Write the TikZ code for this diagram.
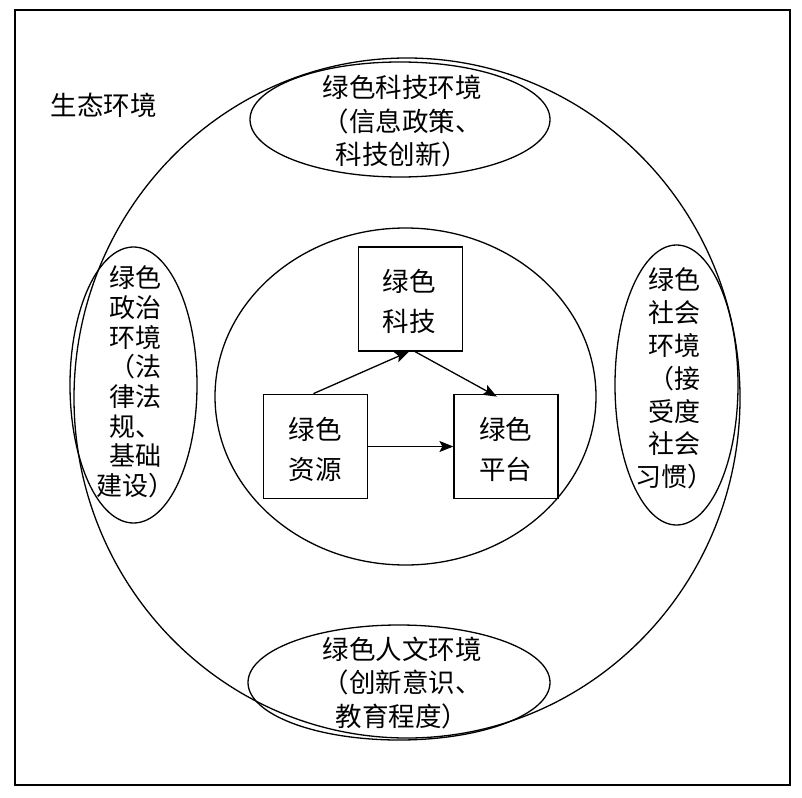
\documentclass[tikz,border=0pt]{standalone}
\usepackage{fontspec}
\newfontfamily\cjk{Noto Sans CJK SC}
\usetikzlibrary{shapes.geometric,arrows.meta}
\tikzset{
  ring/.style={ellipse, draw, line width=1.3pt, inner sep=0pt},
  stepbox/.style={rectangle, draw, line width=1.8pt, minimum width=104pt, minimum height=104pt, inner sep=0pt},
  txt/.style={inner sep=0pt, align=center},
  conn/.style={line width=1.3pt, -{Stealth[length=14pt,width=11pt,inset=3pt]}},
}
\begin{document}
\begin{tikzpicture}[x=1pt,y=-1pt]
\useasboundingbox (0,0) rectangle (802,797);
\draw[line width=1.3pt] (15,10) rectangle (790,785);
\node[txt, font=\cjk\fontsize{26.5}{30}\selectfont] (eco) at (103.5,105) {生态环境};
% outer circle
\node[ring, minimum width=666pt, minimum height=680pt] (outer) at (407,398) {};
% inner circle
\node[ring, minimum width=381pt, minimum height=337pt] (inner) at (405.5,396.5) {};
% four surrounding ellipses
\node[ring, minimum width=300pt, minimum height=115pt] (top) at (400,119.5) {};
\node[ring, minimum width=302pt, minimum height=115pt] (bot) at (399,682.5) {};
\node[ring, minimum width=127pt, minimum height=276pt] (left) at (133.5,385) {};
\node[ring, minimum width=123pt, minimum height=280pt] (right) at (676.5,385) {};
% texts in the ellipses
\node[txt, font=\cjk\fontsize{26.5}{33.5}\selectfont] (toptxt) at (402,121.5) {绿色科技环境\\（信息政策、\\科技创新）};
\node[txt, font=\cjk\fontsize{26.5}{33.5}\selectfont] (bottxt) at (402,683) {绿色人文环境\\（创新意识、\\教育程度）};
\node[txt, font=\cjk\fontsize{26}{29.7}\selectfont] (lefttxt) at (135,382) {绿色\\政治\\环境\\（法\\律法\\规、\\基础\\建设）};
\node[txt, font=\cjk\fontsize{26}{32.8}\selectfont] (righttxt) at (674,378.5) {绿色\\社会\\环境\\（接\\受度\\社会\\习惯）};
% boxes
\node[stepbox] (keji) at (410.5,298.7) {};
\node[stepbox] (ziyuan) at (315.5,446.5) {};
\node[stepbox] (pingtai) at (506.3,446.5) {};
\node[txt, font=\cjk\fontsize{26.5}{40}\selectfont] (kejitxt) at (409,301.7) {绿色\\科技};
\node[txt, font=\cjk\fontsize{26.5}{40}\selectfont] (ziyuantxt) at (315,449.5) {绿色\\资源};
\node[txt, font=\cjk\fontsize{26.5}{40}\selectfont] (pingtaitxt) at (505.5,449.5) {绿色\\平台};
% connectors
\draw[conn] ([xshift=-2pt]ziyuan.north) -- ([xshift=-1.5pt]keji.south);
\draw[conn] ([xshift=4.5pt]keji.south) -- ([xshift=-9.5pt,yshift=-3pt]pingtai.north);
\draw[conn] (ziyuan.east) -- (pingtai.west);
\end{tikzpicture}
\end{document}
